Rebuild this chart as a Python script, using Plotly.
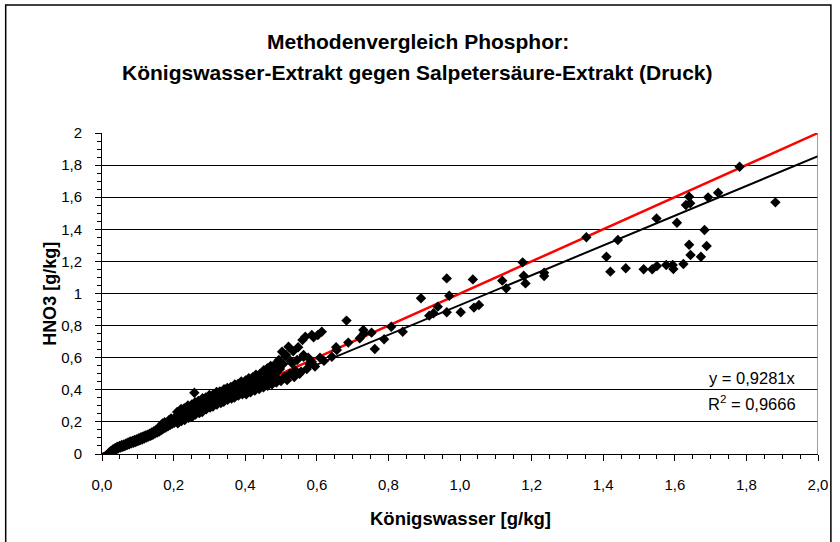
import plotly.graph_objects as go

# Königswasser (x) vs. HNO3 (y) phosphorus contents in g/kg
kw_low = [0.020, 0.024, 0.028, 0.031, 0.034, 0.037, 0.040, 0.043, 0.046, 0.049,
          0.052, 0.055, 0.058, 0.061, 0.064, 0.067, 0.070, 0.073, 0.076, 0.079,
          0.082, 0.085, 0.088, 0.091, 0.094, 0.097, 0.100, 0.103, 0.106, 0.109,
          0.112, 0.115, 0.118, 0.121, 0.124, 0.127, 0.130, 0.133, 0.136, 0.139,
          0.142, 0.145, 0.148, 0.151, 0.154, 0.157, 0.160, 0.163, 0.166, 0.169,
          0.172, 0.175, 0.178, 0.181, 0.184, 0.187, 0.190, 0.193, 0.196, 0.199]
hno3_low = [0.008, 0.018, 0.012, 0.030, 0.022, 0.038, 0.027, 0.045, 0.036, 0.050,
            0.040, 0.056, 0.045, 0.060, 0.050, 0.066, 0.055, 0.072, 0.060, 0.078,
            0.066, 0.082, 0.070, 0.088, 0.075, 0.092, 0.080, 0.098, 0.085, 0.104,
            0.090, 0.110, 0.096, 0.116, 0.102, 0.120, 0.108, 0.126, 0.114, 0.134,
            0.120, 0.142, 0.128, 0.150, 0.134, 0.160, 0.140, 0.175, 0.150, 0.190,
            0.158, 0.198, 0.165, 0.185, 0.172, 0.210, 0.180, 0.222, 0.188, 0.205]

kw_mid = [0.202, 0.205, 0.208, 0.211, 0.214, 0.217, 0.220, 0.223, 0.226, 0.229,
          0.232, 0.235, 0.238, 0.241, 0.244, 0.247, 0.250, 0.253, 0.256, 0.259,
          0.262, 0.265, 0.268, 0.271, 0.274, 0.277, 0.280, 0.283, 0.286, 0.289,
          0.292, 0.295, 0.298, 0.301, 0.304, 0.307, 0.310, 0.313, 0.316, 0.319,
          0.322, 0.325, 0.328, 0.331, 0.334, 0.337, 0.340, 0.343, 0.346, 0.349,
          0.352, 0.355, 0.358, 0.361, 0.364, 0.367, 0.370, 0.373, 0.376, 0.379,
          0.382, 0.385, 0.388, 0.391, 0.394, 0.397, 0.400, 0.258,
          0.210, 0.221, 0.230, 0.240, 0.251, 0.260, 0.269, 0.281, 0.290, 0.300,
          0.311, 0.320, 0.329, 0.341, 0.350, 0.360, 0.371, 0.380, 0.389, 0.401,
          0.410, 0.421, 0.430, 0.441,
          0.212, 0.222, 0.231, 0.242, 0.252, 0.261, 0.272, 0.280, 0.291, 0.302,
          0.310, 0.321, 0.332, 0.340, 0.351, 0.362, 0.370, 0.381, 0.392, 0.400,
          0.411]
hno3_mid = [0.195, 0.230, 0.212, 0.240, 0.200, 0.225, 0.248, 0.215, 0.238, 0.260,
            0.228, 0.250, 0.275, 0.240, 0.262, 0.290, 0.250, 0.275, 0.300, 0.262,
            0.285, 0.310, 0.270, 0.295, 0.322, 0.285, 0.305, 0.330, 0.292, 0.315,
            0.340, 0.300, 0.322, 0.350, 0.312, 0.335, 0.358, 0.320, 0.345, 0.370,
            0.330, 0.352, 0.378, 0.338, 0.360, 0.385, 0.345, 0.368, 0.395, 0.352,
            0.375, 0.400, 0.360, 0.385, 0.412, 0.370, 0.395, 0.420, 0.378, 0.402,
            0.428, 0.385, 0.410, 0.435, 0.392, 0.418, 0.445, 0.382,
            0.262, 0.280, 0.286, 0.302, 0.308, 0.322, 0.330, 0.347, 0.352, 0.368,
            0.372, 0.386, 0.390, 0.404, 0.412, 0.418, 0.433, 0.437, 0.452, 0.458,
            0.472, 0.478, 0.494, 0.498,
            0.192, 0.205, 0.212, 0.226, 0.232, 0.246, 0.255, 0.262, 0.278, 0.290,
            0.296, 0.308, 0.318, 0.325, 0.338, 0.346, 0.352, 0.364, 0.372, 0.380,
            0.392]

kw_high = [0.403, 0.406, 0.409, 0.412, 0.415, 0.418, 0.421, 0.424, 0.427, 0.430,
           0.433, 0.436, 0.439, 0.442, 0.445, 0.448, 0.451, 0.454, 0.457, 0.460,
           0.463, 0.466, 0.469, 0.472, 0.475, 0.478, 0.481, 0.484, 0.487, 0.490,
           0.494, 0.497, 0.500, 0.503, 0.506, 0.509, 0.512, 0.514, 0.517, 0.521,
           0.524, 0.527, 0.531, 0.534, 0.537, 0.540, 0.545, 0.548, 0.552, 0.556,
           0.560, 0.563, 0.568, 0.572, 0.576, 0.580, 0.586, 0.586, 0.591, 0.595,
           0.603, 0.609, 0.614, 0.620, 0.563,
           0.452, 0.462, 0.471, 0.482, 0.492]
hno3_high = [0.372, 0.400, 0.430, 0.455, 0.385, 0.410, 0.440, 0.470, 0.395, 0.420,
             0.450, 0.480, 0.405, 0.430, 0.460, 0.495, 0.415, 0.440, 0.470, 0.505,
             0.425, 0.450, 0.480, 0.520, 0.435, 0.460, 0.545, 0.500, 0.445, 0.470,
             0.586, 0.530, 0.455, 0.637, 0.560, 0.480, 0.610, 0.617, 0.460, 0.668,
             0.500, 0.580, 0.565, 0.640, 0.480, 0.520, 0.586, 0.665, 0.500, 0.513,
             0.710, 0.617, 0.731, 0.530, 0.600, 0.560, 0.741, 0.575, 0.727, 0.545,
             0.741, 0.600, 0.762, 0.580, 0.606,
             0.522, 0.535, 0.548, 0.556, 0.570]

kw_scatter = [0.642, 0.654, 0.656, 0.683, 0.688, 0.720, 0.730, 0.732, 0.753, 0.762,
              0.788, 0.808, 0.840, 0.891, 0.914, 0.926, 0.938, 0.963, 0.963, 0.970,
              1.002, 1.036, 1.039, 1.053, 1.118, 1.129, 1.175, 1.178, 1.183, 1.235,
              1.235, 1.353, 1.409, 1.420, 1.441, 1.463, 1.513, 1.537, 1.550, 1.549,
              1.576, 1.594, 1.596, 1.606, 1.624, 1.631, 1.640, 1.643, 1.644, 1.640,
              1.673, 1.683, 1.689, 1.693, 1.721, 1.781, 1.881]
hno3_scatter = [0.606, 0.665, 0.648, 0.831, 0.694, 0.721, 0.773, 0.752, 0.756, 0.654,
                0.715, 0.793, 0.762, 0.970, 0.862, 0.877, 0.918, 0.883, 1.094, 0.986,
                0.883, 1.088, 0.912, 0.928, 1.080, 1.032, 1.194, 1.111, 1.063, 1.130,
                1.109, 1.350, 1.229, 1.136, 1.333, 1.157, 1.151, 1.151, 1.171, 1.468,
                1.178, 1.178, 1.153, 1.441, 1.184, 1.551, 1.603, 1.562, 1.240, 1.304,
                1.229, 1.396, 1.296, 1.599, 1.628, 1.790, 1.568]

koenigswasser = kw_low + kw_mid + kw_high + kw_scatter
hno3 = hno3_low + hno3_mid + hno3_high + hno3_scatter

# 1:1 line and regression through origin
line_x = [0.0, 2.0]
slope = 0.9281
r_squared = 0.9666

y_ticks = [0, 0.2, 0.4, 0.6, 0.8, 1.0, 1.2, 1.4, 1.6, 1.8, 2.0]
y_ticktext = ["0", "0,2", "0,4", "0,6", "0,8", "1", "1,2", "1,4", "1,6", "1,8", "2"]
x_ticks = [0, 0.2, 0.4, 0.6, 0.8, 1.0, 1.2, 1.4, 1.6, 1.8, 2.0]
x_ticktext = ["0,0", "0,2", "0,4", "0,6", "0,8", "1,0", "1,2", "1,4", "1,6", "1,8", "2,0"]

FONT = "Liberation Sans, Arial, sans-serif"

fig = go.Figure()
fig.add_trace(go.Scatter(x=line_x, y=line_x, mode="lines",
                         line=dict(color="#ff0000", width=2.5),
                         hoverinfo="skip", showlegend=False))
fig.add_trace(go.Scatter(x=line_x, y=[slope * v for v in line_x], mode="lines",
                         line=dict(color="#000000", width=2),
                         hoverinfo="skip", showlegend=False))
fig.add_trace(go.Scatter(x=koenigswasser, y=hno3, mode="markers",
                         marker=dict(symbol="diamond", size=8, color="#000000",
                                     line=dict(width=0)),
                         showlegend=False))

fig.update_layout(
    width=840, height=542,
    margin=dict(l=102, r=17, t=133, b=88),
    paper_bgcolor="white", plot_bgcolor="white",
    font=dict(family=FONT, color="black", size=15),
    showlegend=False,
)
fig.update_xaxes(range=[0, 2], tickvals=x_ticks, ticktext=x_ticktext,
                 showgrid=False, zeroline=False,
                 showline=True, linecolor="black", linewidth=1,
                 ticks="outside", ticklen=6, tickcolor="black",
                 minor=dict(dtick=0.05, ticks="outside", ticklen=4, tickcolor="black"),
                 tickfont=dict(size=15), ticklabelstandoff=11)
fig.update_yaxes(range=[0, 2], tickvals=y_ticks, ticktext=y_ticktext,
                 showgrid=True, gridcolor="black", gridwidth=1, zeroline=False,
                 showline=True, linecolor="black", linewidth=1,
                 ticks="outside", ticklen=6, tickcolor="black",
                 minor=dict(dtick=0.05, ticks="outside", ticklen=4, tickcolor="black", showgrid=False),
                 tickfont=dict(size=15), ticklabelstandoff=10)

# right border of the plotting area
fig.add_shape(type="line", xref="x", yref="y", x0=2, x1=2, y0=0, y1=2,
              line=dict(color="#808080", width=1.5))
# outer chart frame
fig.add_shape(type="rect", xref="paper", yref="paper",
              x0=-0.1345, x1=1.018, y0=-0.3, y1=1.399,
              line=dict(color="black", width=1.5), layer="below")

# two-line chart title, centred on the page
fig.add_annotation(xref="paper", yref="paper", x=0.441, y=1.2835,
                   xanchor="center", yanchor="middle", showarrow=False,
                   text="<b>Methodenvergleich Phosphor:</b>", font=dict(size=21))
fig.add_annotation(xref="paper", yref="paper", x=0.441, y=1.187,
                   xanchor="center", yanchor="middle", showarrow=False,
                   text="<b>Königswasser-Extrakt gegen Salpetersäure-Extrakt (Druck)</b>",
                   font=dict(size=21))

# axis titles
fig.add_annotation(xref="paper", yref="paper", x=0.5, y=-0.1994,
                   xanchor="center", yanchor="middle", showarrow=False,
                   text="<b>Königswasser [g/kg]</b>", font=dict(size=18.5))
fig.add_annotation(xref="paper", yref="paper", x=-0.0735, y=0.5,
                   xanchor="center", yanchor="middle", showarrow=False, textangle=-90,
                   text="<b>HNO3 [g/kg]</b>", font=dict(size=18))

# regression equation
fig.add_annotation(xref="paper", yref="paper", x=0.972, y=0.2368,
                   xanchor="right", yanchor="middle", showarrow=False,
                   text="y = 0,9281x", font=dict(size=16.5))
fig.add_annotation(xref="paper", yref="paper", x=0.972, y=0.159,
                   xanchor="right", yanchor="middle", showarrow=False,
                   text="R<sup>2</sup> = 0,9666", font=dict(size=16.5))

fig.write_html("out.html")
